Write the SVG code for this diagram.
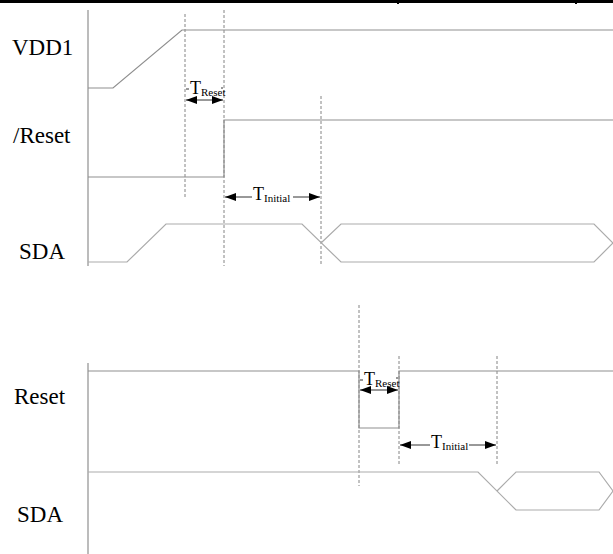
<svg xmlns="http://www.w3.org/2000/svg" width="613" height="554" viewBox="0 0 613 554">
<style>
.lbl{font-family:"Liberation Serif","Times New Roman","Tinos","DejaVu Serif",serif;font-size:23px;fill:#000}
.t{font-family:"Liberation Serif","Times New Roman","Tinos","DejaVu Serif",serif;font-size:18px;fill:#000}
.sub{font-size:11px}
.sig{fill:none;stroke:#8f8f8f;stroke-width:1.2}
.bus{fill:none;stroke:#ababab;stroke-width:1.2}
.dash{fill:none;stroke:#777;stroke-width:0.9;stroke-dasharray:3 2}
.dim{fill:none;stroke:#333;stroke-width:1}
.axis{fill:none;stroke:#8f8f8f;stroke-width:1.2}
</style>
<defs>
<marker id="ah" viewBox="0 0 11 8" refX="11" refY="4" markerWidth="11" markerHeight="8" markerUnits="userSpaceOnUse" orient="auto-start-reverse">
<path d="M0,0 L11,4 L0,8 Z" fill="#000"/>
</marker>
</defs>
<rect width="613" height="554" fill="#fff"/>
<g id="frame">
<line x1="0" y1="1.5" x2="613" y2="1.5" stroke="#000" stroke-width="3"/>
<line x1="398" y1="0" x2="398" y2="4" stroke="#000" stroke-width="2"/>
<line x1="576" y1="0" x2="576" y2="4" stroke="#000" stroke-width="2"/>
</g>
<g id="labels">
<text class="lbl" x="12" y="55">VDD1</text>
<text class="lbl" x="13" y="143">/Reset</text>
<text class="lbl" x="19" y="259">SDA</text>
<text class="lbl" x="14" y="404">Reset</text>
<text class="lbl" x="17" y="522">SDA</text>
</g>
<g id="axes">
<line class="axis" x1="88" y1="10" x2="88" y2="266"/>
<line class="axis" x1="88" y1="363" x2="88" y2="554"/>
</g>
<g id="guides">
<line class="dash" x1="185" y1="14" x2="185" y2="197"/>
<line class="dash" x1="224" y1="10" x2="224" y2="266"/>
<line class="dash" x1="321" y1="96" x2="321" y2="266"/>
<line class="dash" x1="359" y1="305" x2="359" y2="486"/>
<line class="dash" x1="399" y1="356" x2="399" y2="465"/>
<line class="dash" x1="497" y1="356" x2="497" y2="465"/>
</g>
<g id="vdd1">
<polyline class="sig" points="88,88 113,88 182,30 613,30"/>
</g>
<g id="reset-top">
<polyline class="sig" points="88,177 224,177 224,120 613,120"/>
</g>
<g id="sda-top">
<polyline class="bus" points="88,262 127,262 166,224 302,224 341,262 594,262 613,243"/>
<polyline class="bus" points="321,243 341,224 594,224 613,243"/>
</g>
<g id="reset-bottom">
<polyline class="sig" points="88,371 359,371 359,428 399,428 399,371 613,371"/>
</g>
<g id="sda-bottom">
<polyline class="bus" points="88,472 478,472 516,510 599,510 613,491"/>
<polyline class="bus" points="497,491 516,472 599,472 613,491"/>
</g>
<g id="connectors">
<line class="dim" x1="186" y1="100" x2="223" y2="100" marker-start="url(#ah)" marker-end="url(#ah)"/>
<line class="dim" x1="225" y1="197" x2="252" y2="197" marker-start="url(#ah)"/>
<line class="dim" x1="293" y1="197" x2="320" y2="197" marker-end="url(#ah)"/>
<line class="dim" x1="360" y1="390" x2="398" y2="390" marker-start="url(#ah)" marker-end="url(#ah)"/>
<line class="dim" x1="400" y1="445" x2="430" y2="445" marker-start="url(#ah)"/>
<line class="dim" x1="469" y1="445" x2="496" y2="445" marker-end="url(#ah)"/>
</g>
<g id="dim-labels">
<line class="dim" x1="186" y1="89" x2="189" y2="89"/>
<line class="dim" x1="221" y1="88" x2="223" y2="88"/>
<text class="t" x="190" y="94">T<tspan class="sub" dy="2">Reset</tspan></text>
<text class="t" x="253" y="200">T<tspan class="sub" dy="2">Initial</tspan></text>
<line class="dim" x1="360" y1="380" x2="363" y2="380"/>
<line class="dim" x1="396" y1="378" x2="398" y2="378"/>
<text class="t" x="364" y="385">T<tspan class="sub" dy="2">Reset</tspan></text>
<text class="t" x="431" y="448">T<tspan class="sub" dy="2">Initial</tspan></text>
</g>
</svg>
